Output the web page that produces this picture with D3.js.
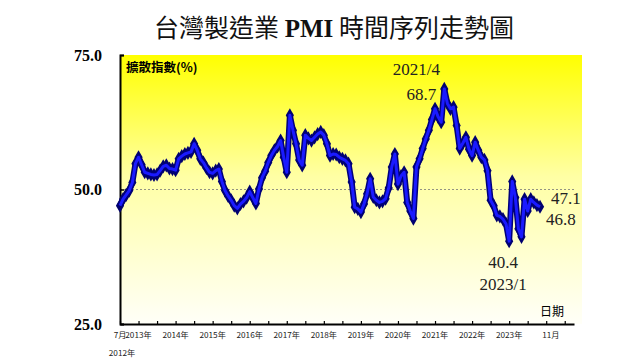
<!DOCTYPE html>
<html><head><meta charset="utf-8">
<script src="https://cdn.jsdelivr.net/npm/d3@7"></script>
<style>
html,body{margin:0;padding:0;background:#fff;}
svg{display:block;}
</style></head>
<body>
<svg id="c" width="640" height="360"></svg>
<script>
// Monthly PMI values, July 2012 - November 2023
const pmi2012 = [47.0, 48.2, 49.0, 49.8, 51.3, 54.8];
const pmi2013 = [56.0, 54.6, 53.2, 53.0, 52.8, 52.7, 52.8, 53.5, 54.3, 54.5, 53.9, 53.8];
const pmi2014 = [53.6, 55.7, 56.2, 56.6, 56.8, 57.0, 58.5, 57.3, 55.7, 55.0, 54.0, 53.2];
const pmi2015 = [53.0, 53.5, 53.8, 51.5, 49.8, 48.8, 48.0, 47.0, 46.5, 47.3, 47.8, 48.5];
const pmi2016 = [49.6, 48.5, 47.4, 50.1, 52.2, 53.4, 55.0, 56.3, 57.3, 58.0, 59.1, 56.0];
const pmi2017 = [53.2, 63.8, 61.0, 58.5, 55.5, 54.5, 60.1, 59.5, 59.1, 59.7, 60.3, 60.7];
const pmi2018 = [60.1, 58.5, 56.3, 56.6, 56.5, 56.0, 55.7, 55.4, 54.8, 51.4, 46.7, 46.4];
const pmi2019 = [45.8, 47.3, 49.2, 52.0, 48.6, 48.0, 47.6, 47.8, 48.3, 50.3, 54.2, 56.6];
const pmi2020 = [51.0, 52.5, 53.2, 47.6, 46.0, 44.6, 54.2, 55.7, 57.6, 59.4, 61.0, 63.0];
const pmi2021 = [65.0, 63.5, 62.5, 68.7, 66.0, 65.0, 65.3, 61.9, 57.6, 58.6, 59.7, 57.5];
const pmi2022 = [56.3, 58.8, 57.3, 56.0, 55.5, 53.5, 48.0, 47.0, 45.2, 45.0, 44.5, 43.6];
const pmi2023 = [40.4, 51.5, 48.5, 42.7, 41.2, 48.2, 46.0, 48.2, 47.6, 47.1, 46.8];

// x-axis labels: [month index from Jul 2012, text]
const xLabelMonths = [0, 6, 18, 30, 42, 54, 66, 78, 90, 102, 114, 126, 139.5];
const xLabelTexts = ["7月", "2013年", "2014年", "2015年", "2016年", "2017年", "2018年", "2019年", "2020年", "2021年", "2022年", "2023年", "11月"];
const yTicks = [25, 50, 75];

// annotations: month index and text lines
const annoMonths = [105, 126, 135, 136];
const annoTexts = [["2021/4", "68.7"], ["40.4", "2023/1"], ["47.1"], ["46.8"]];

const values = [].concat(pmi2012, pmi2013, pmi2014, pmi2015, pmi2016, pmi2017,
  pmi2018, pmi2019, pmi2020, pmi2021, pmi2022, pmi2023);
const data = values.map((v, i) => ({m: i, v: v}));

const svg = d3.select("#c");
const L = 120, R = 574, T = 55, B = 324;
const x = d3.scaleLinear().domain([0, 147]).range([L, R]);
const y = d3.scaleLinear().domain([25, 75]).range([B, T]);

// gradient background
const defs = svg.append("defs");
const g = defs.append("linearGradient").attr("id", "bg").attr("x1", 0).attr("y1", 0).attr("x2", 0).attr("y2", 1);
g.append("stop").attr("offset", "0%").attr("stop-color", "#ffff00");
g.append("stop").attr("offset", "45%").attr("stop-color", "#ffffa4");
g.append("stop").attr("offset", "100%").attr("stop-color", "#fffff8");
svg.append("rect").attr("x", L).attr("y", T).attr("width", 582 - L).attr("height", B - T).attr("fill", "url(#bg)");

// title
const title = svg.append("text").attr("x", 334).attr("y", 37).attr("text-anchor", "middle")
  .attr("font-size", 25).attr("fill", "#111");
title.append("tspan").attr("font-family", "'Noto Sans CJK TC', sans-serif").text("台灣製造業 ");
title.append("tspan").attr("font-family", "'Liberation Serif', serif").attr("font-weight", "bold").text("PMI");
title.append("tspan").attr("font-family", "'Noto Sans CJK TC', sans-serif").text(" 時間序列走勢圖");

// 50 reference dashed line
svg.append("line").attr("x1", L).attr("x2", R).attr("y1", y(50)).attr("y2", y(50))
  .attr("stroke", "#777").attr("stroke-width", 0.8).attr("stroke-dasharray", "2,2");

// y axis
const yAxis = svg.append("g").attr("transform", `translate(${L},0)`)
  .call(d3.axisLeft(y).tickValues(yTicks).tickSize(-4).tickPadding(18).tickFormat(d3.format(".1f")));
yAxis.select(".domain").attr("stroke", "#000").attr("stroke-width", 2);
yAxis.selectAll(".tick line").attr("stroke", "#000").attr("stroke-width", 1.5);
yAxis.selectAll("text").attr("font-family", "'Liberation Serif', serif").attr("font-weight", "bold")
  .attr("font-size", 16).attr("fill", "#000");

// x axis
const xAxis = svg.append("g").attr("transform", `translate(0,${B})`)
  .call(d3.axisBottom(x).tickValues(d3.range(0, 145, 6)).tickSize(-3).tickSizeOuter(0).tickFormat(""));
xAxis.select(".domain").attr("stroke", "#000").attr("stroke-width", 2);
xAxis.selectAll(".tick line").attr("stroke", "#000").attr("stroke-width", 1.2);

svg.append("g").selectAll("text").data(xLabelMonths).join("text")
  .attr("x", d => x(d)).attr("y", 338).attr("text-anchor", "middle")
  .attr("font-family", "'Noto Sans CJK TC', sans-serif").attr("font-size", 8.2).attr("fill", "#222")
  .text((d, i) => xLabelTexts[i]);
svg.append("text").attr("x", x(0) + 2).attr("y", 356).attr("text-anchor", "middle")
  .attr("font-family", "'Noto Sans CJK TC', sans-serif").attr("font-size", 8.2).attr("fill", "#222").text("2012年");

// axis titles
svg.append("text").attr("x", 126).attr("y", 72).attr("font-family", "'Noto Sans CJK TC', sans-serif")
  .attr("font-weight", "bold").attr("font-size", 12.5).attr("fill", "#000").text("擴散指數(%)");
svg.append("text").attr("x", 540).attr("y", 316).attr("font-family", "'Noto Sans CJK TC', sans-serif")
  .attr("font-size", 12).attr("fill", "#000").text("日期");

// series
const line = d3.line().x(d => x(d.m)).y(d => y(d.v));
svg.append("g").selectAll("path").data(data).join("path")
  .attr("d", d3.symbol(d3.symbolDiamond, 58)())
  .attr("transform", d => `translate(${x(d.m)},${y(d.v)})`)
  .attr("fill", "#00006e");
svg.append("path").datum(data).attr("d", line).attr("fill", "none")
  .attr("stroke", "#00007a").attr("stroke-width", 6).attr("stroke-linejoin", "round");
svg.append("path").datum(data).attr("d", line).attr("fill", "none")
  .attr("stroke", "#1a1aff").attr("stroke-width", 3).attr("stroke-linejoin", "round");

// annotations
const annoFont = "'Liberation Serif', serif";
const ann = svg.append("g").attr("font-family", annoFont).attr("font-size", 17).attr("fill", "#222");
ann.append("text").attr("x", x(annoMonths[0]) - 28).attr("y", y(values[annoMonths[0]]) - 14).attr("text-anchor", "middle").text(annoTexts[0][0]);
ann.append("text").attr("x", x(annoMonths[0]) - 23).attr("y", y(values[annoMonths[0]]) + 11).attr("text-anchor", "middle").text(annoTexts[0][1]);
ann.append("text").attr("x", x(annoMonths[1]) - 6).attr("y", y(values[annoMonths[1]]) + 27).attr("text-anchor", "middle").text(annoTexts[1][0]);
ann.append("text").attr("x", x(annoMonths[1]) - 6).attr("y", y(values[annoMonths[1]]) + 49).attr("text-anchor", "middle").text(annoTexts[1][1]);
ann.append("text").attr("x", x(annoMonths[2]) + 14).attr("y", y(values[annoMonths[2]]) - 1).text(annoTexts[2][0]);
ann.append("text").attr("x", x(annoMonths[3]) + 6).attr("y", y(values[annoMonths[3]]) + 18).text(annoTexts[3][0]);
</script>
</body></html>
